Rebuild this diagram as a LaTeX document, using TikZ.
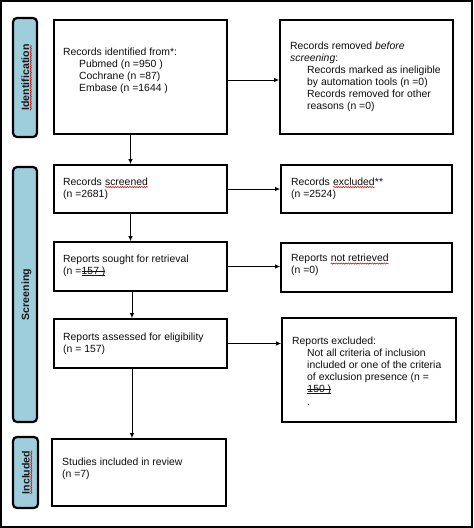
\documentclass[tikz,border=0pt]{standalone}
\usepackage{fontspec}
\setmainfont{Liberation Sans}
\usetikzlibrary{arrows.meta,decorations.pathmorphing}
\definecolor{lblblue}{RGB}{158,205,219}
\newcommand{\wavyul}[1]{\tikz[baseline=(w.base)]{\node[inner sep=0pt,outer sep=0pt] (w) {#1};\draw[red!85!black,line width=0.55pt,decorate,decoration={snake,amplitude=0.6pt,segment length=2.4pt}] ([yshift=-1.8pt]w.base west) -- ([yshift=-1.8pt]w.base east);}}
\newcommand{\dblul}[1]{\tikz[baseline=(w.base)]{\node[inner sep=0pt,outer sep=0pt] (w) {#1};\draw[blue!70!black,line width=0.55pt] ([yshift=3.4pt]w.base west) -- ([yshift=3.4pt]w.base east) ([yshift=-1.4pt]w.base west) -- ([yshift=-1.4pt]w.base east);}}
\tikzset{
  box/.style={draw=black,line width=1.8pt,inner sep=0pt,fill=white},
  lbl/.style={draw=black,line width=2.2pt,rounded corners=4pt,fill=lblblue,inner sep=0pt},
  lbltext/.style={rotate=90,font=\fontsize{10.6}{12}\selectfont\bfseries,text=black!90,inner sep=0pt},
  txt/.style={anchor=north west,align=left,inner sep=0pt,font=\fontsize{10.4}{12}\selectfont,text=black!95},
  arr/.style={line width=0.9pt,-{Latex[length=5pt,width=4.5pt]}}
}
\begin{document}
\begin{tikzpicture}[x=1pt,y=-1pt]
\useasboundingbox (0,0) rectangle (474,528);
\draw[line width=1.2pt] (1,1) rectangle (472,527);
% side labels
\node[lbl,minimum width=24pt,minimum height=119pt] (l1) at (25,77.5) {};
\node[lbltext] (l1t) at ([xshift=1.5pt]l1.center) {\wavyul{Identification}};
\node[lbl,minimum width=24pt,minimum height=255pt] (l2) at (25,294.5) {};
\node[lbltext] (l2t) at ([xshift=1.5pt]l2.center) {Screening};
\node[lbl,minimum width=25pt,minimum height=71pt] (l3) at (25.5,472.5) {};
\node[lbltext] (l3t) at ([xshift=1.5pt]l3.center) {\wavyul{Included}};
% boxes
\node[box,minimum width=173pt,minimum height=114pt] (b1) at (140.5,77) {};
\node[box,minimum width=173pt,minimum height=114pt] (b2) at (366.5,77) {};
\node[box,minimum width=173pt,minimum height=48pt] (b3) at (140.5,189) {};
\node[box,minimum width=171pt,minimum height=48pt] (b4) at (366.5,189) {};
\node[box,minimum width=173pt,minimum height=49pt] (b5) at (140.5,266.5) {};
\node[box,minimum width=171pt,minimum height=49pt] (b6) at (366.5,267.5) {};
\node[box,minimum width=173pt,minimum height=49pt] (b7) at (140.5,343.5) {};
\node[box,minimum width=174pt,minimum height=104pt] (b8) at (369,370) {};
\node[box,minimum width=174pt,minimum height=67pt] (b9) at (139,472.5) {};
% texts
\node[txt] (t1) at (63,47.5) {Records identified from*:\\\hspace*{16pt}Pubmed (n =950 )\\\hspace*{16pt}Cochrane (n =87)\\\hspace*{16pt}Embase (n =1644 )};
\node[txt] (t2) at (290,41.5) {Records removed \textit{before}\\\textit{screening}:\\\hspace*{17pt}Records marked as ineligible\\\hspace*{17pt}by automation tools (n =0)\\\hspace*{17pt}Records removed for other\\\hspace*{17pt}reasons (n =0)};
\node[txt] (t3) at (63,177.5) {Records \wavyul{screened}\\(n =2681)};
\node[txt] (t4) at (291,177.5) {Records \wavyul{excluded}**\\(n =2524)};
\node[txt] (t5) at (63,254.5) {Reports sought for retrieval\\(n =\dblul{157 )}};
\node[txt] (t6) at (291,254) {Reports \wavyul{not retrieved}\\(n =0)};
\node[txt] (t7) at (63,332.5) {Reports assessed for eligibility\\(n = 157)};
\node[txt] (t8) at (292,336.5) {Reports excluded:\\\hspace*{15pt}Not all criteria of inclusion\\\hspace*{15pt}included or one of the criteria\\\hspace*{15pt}of exclusion presence (n =\\\hspace*{15pt}\dblul{150 )}\\[1pt]\hspace*{15pt}.};
\node[txt] (t9) at (62,457.5) {Studies included in review\\(n =7)};
% connectors
\draw[arr] ([yshift=-3pt]b1.east) -- ([yshift=-3pt]b2.west);
\draw[arr] (b3.east) -- (b4.west);
\draw[arr] (b5.east) -- (b5.east -| b6.west);
\draw[arr] (b7.east) -- (b7.east -| b8.west);
\draw[arr] ([xshift=-10pt]b1.south) -- ([xshift=-10pt]b3.north);
\draw[arr] ([xshift=-10pt]b3.south) -- ([xshift=-10pt]b5.north);
\draw[arr] ([xshift=-8.5pt]b5.south) -- ([xshift=-8.5pt]b7.north);
\draw[arr] ([xshift=-8.5pt]b7.south) -- ([xshift=-8.5pt]b7.south |- b9.north);
\end{tikzpicture}
\end{document}
